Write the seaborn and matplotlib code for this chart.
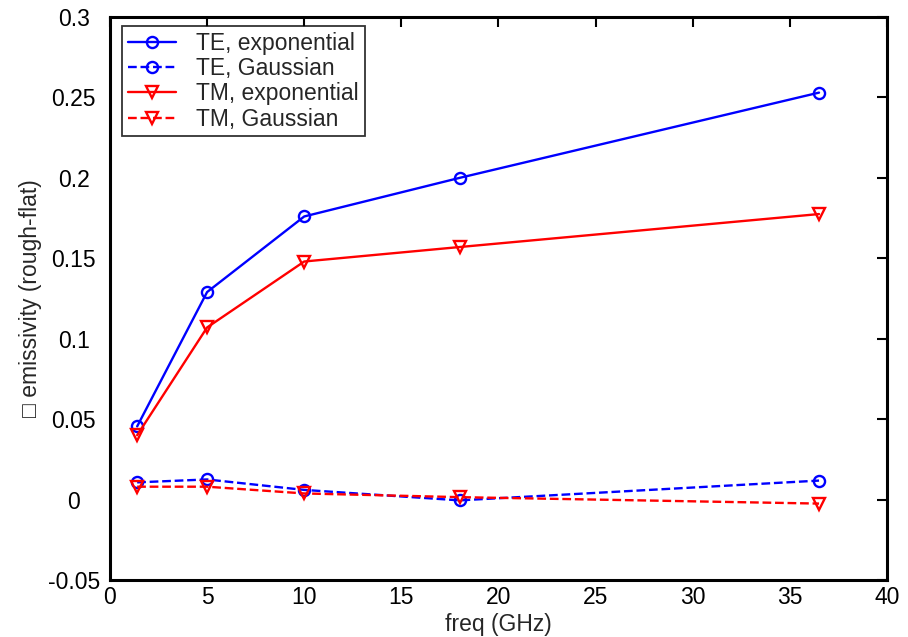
import matplotlib
matplotlib.use("Agg")
import matplotlib.pyplot as plt
import seaborn as sns
import pandas as pd

# Frequencies (GHz) and emissivity differences (rough minus flat)
freq = [1.4, 5, 10, 18, 36.5]
te_exponential = [0.0455, 0.129, 0.176, 0.200, 0.253]
te_gaussian = [0.0107, 0.0125, 0.006, -0.0005, 0.0118]
tm_exponential = [0.040, 0.107, 0.148, 0.157, 0.1775]
tm_gaussian = [0.008, 0.008, 0.0038, 0.0015, -0.0025]

series_names = ["TE, exponential", "TE, Gaussian", "TM, exponential", "TM, Gaussian"]
series_values = [te_exponential, te_gaussian, tm_exponential, tm_gaussian]

xticks = [0, 5, 10, 15, 20, 25, 30, 35, 40]
yticks = [-0.05, 0, 0.05, 0.1, 0.15, 0.2, 0.25, 0.3]
ytick_labels = ["-0.05", "0", "0.05", "0.1", "0.15", "0.2", "0.25", "0.3"]

sns.set_style("white")
plt.rcParams["font.family"] = ["Liberation Sans", "DejaVu Sans"]

FS = 16.5

df = pd.DataFrame(
    [(n, f, v) for n, vals in zip(series_names, series_values) for f, v in zip(freq, vals)],
    columns=["series", "freq", "value"],
)

styles = {
    "TE, exponential": dict(color="#0000ff", linestyle="-", marker="o", markersize=8),
    "TE, Gaussian": dict(color="#0000ff", linestyle="--", marker="o", markersize=8),
    "TM, exponential": dict(color="#ff0000", linestyle="-", marker="v", markersize=9),
    "TM, Gaussian": dict(color="#ff0000", linestyle="--", marker="v", markersize=9),
}

fig = plt.figure(figsize=(9.08, 6.37), dpi=100)
ax = fig.add_axes([0.1211, 0.0895, 0.8558, 0.8838])

for name in series_names:
    st = styles[name]
    sns.lineplot(
        data=df[df["series"] == name], x="freq", y="value", ax=ax,
        color=st["color"], linestyle=st["linestyle"], marker=st["marker"],
        markersize=st["markersize"], markerfacecolor="none",
        markeredgecolor=st["color"], markeredgewidth=1.7,
        linewidth=1.7, label=name, sort=False,
    )

ax.set_xlim(0, 40)
ax.set_ylim(-0.05, 0.3)
ax.set_xticks(xticks)
ax.set_xticklabels([str(t) for t in xticks])
ax.set_yticks(yticks)
ax.set_yticklabels(ytick_labels)
ax.tick_params(direction="in", length=7, width=1.5, top=True, right=True,
               labelsize=FS, colors="black")
ax.tick_params(axis="x", pad=4)
ax.tick_params(axis="y", pad=26)
for lab in ax.get_yticklabels():
    lab.set_horizontalalignment("center")

for sp in ax.spines.values():
    sp.set_visible(True)
    sp.set_color("black")
    sp.set_linewidth(2.2)

ax.set_xlabel("freq (GHz)", fontsize=FS, labelpad=3)
ax.set_ylabel("\u25a1 emissivity (rough-flat)", fontsize=FS)
ax.yaxis.set_label_coords(-0.087, 0.5)

leg = ax.legend(loc="upper left", bbox_to_anchor=(0.0155, 0.984), borderaxespad=0,
                fontsize=FS, frameon=True, fancybox=False,
                handlelength=2.1, borderpad=0.25, labelspacing=0.1,
                handletextpad=0.9)
leg.get_frame().set_edgecolor("black")
leg.get_frame().set_linewidth(1.3)

fig.savefig("out.png", dpi=100)
